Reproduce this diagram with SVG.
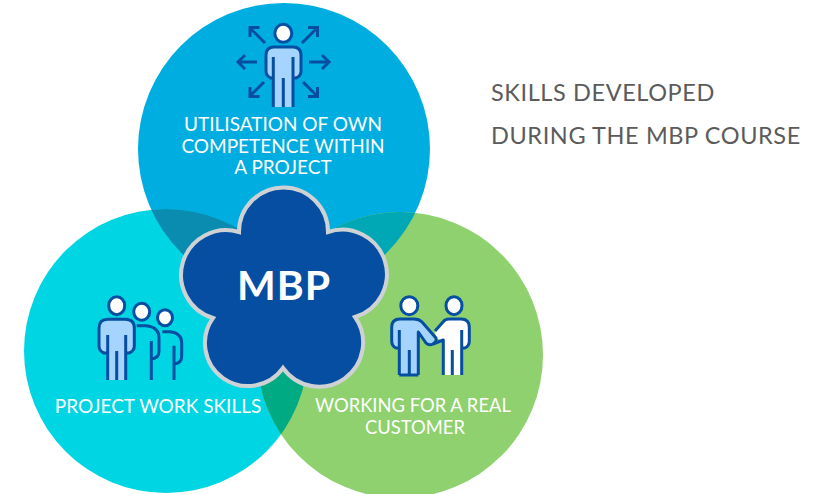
<svg xmlns="http://www.w3.org/2000/svg" width="823" height="494" viewBox="0 0 823 494">
<style>
.lbl{font-family:"Lato","Noto Sans",sans-serif;font-size:19px;fill:#fff;text-anchor:middle}
.lbl2{font-family:"Lato","Noto Sans",sans-serif;font-size:18.4px;fill:#fff;text-anchor:middle}
.side{font-family:"Lato","Noto Sans",sans-serif;font-size:23.5px;fill:#5b5b5b;letter-spacing:.6px}
.ln{fill:none;stroke:#054ea2;stroke-width:3;stroke-linecap:butt;stroke-linejoin:round}
.hd{fill:#fff;stroke:#054ea2;stroke-width:3}
.ar{fill:none;stroke:#054ea2;stroke-width:3}
</style>
<defs>
<clipPath id="cTop"><circle cx="284" cy="149" r="146"/></clipPath>
<clipPath id="cLeft"><circle cx="166" cy="351" r="142"/></clipPath>
</defs>
<rect width="823" height="494" fill="#fff"/>
<g id="circle-top"><circle cx="284" cy="149" r="146" fill="#00ade0"/></g>
<g id="circle-left"><circle cx="166" cy="351" r="142" fill="#00d5e3"/></g>
<g id="circle-right"><circle cx="400" cy="355" r="143" fill="#8fd16f"/></g>
<g id="overlaps">
<circle cx="166" cy="351" r="142" fill="#0a8bb0" clip-path="url(#cTop)"/>
<circle cx="400" cy="355" r="143" fill="#00a7b5" clip-path="url(#cTop)"/>
<circle cx="400" cy="355" r="143" fill="#00ab84" clip-path="url(#cLeft)"/>
</g>
<g id="mbp">
<path d="M239 232A44.500 44.500 0 1 1 328 232A44.600 44.600 0 1 1 355 317A44 44 0 1 1 283 368A43 43 0 1 1 213 318A44.900 44.900 0 1 1 239 232Z" fill="#054ea2" stroke="#cfd2d4" stroke-width="4"/>
<text x="284" y="300" style="font-family:'Lato','Noto Sans',sans-serif;font-size:41px;font-weight:700;fill:#fff;text-anchor:middle;letter-spacing:1px">MBP</text>
</g>
<g id="node-top">
<path d="M273 107V78H271Q266 76 266 71V55Q266 47 274 47H293Q301 47 301 55V71Q301 76 296 78H293V107Z" fill="#a5d4ff" stroke="none"/>
<path class="ln" d="M273.300 78H271Q266 76 266 71V55Q266 47 274 47H293Q301 47 301 55V71Q301 76 296 78H293M273.300 57V107M293 57V107M283.300 78V107"/>
<ellipse class="hd" cx="283.300" cy="33.300" rx="8.500" ry="9"/>
<path class="ar" d="M265 43L250 28M250 37V27.500H259.500M302 43L317 28M308 27.500H317.500V37M257 62H238M245 55L238 62L245 69M309 62H329M322 55L329 62L322 69M264 82L250 96M250 87V96.500H259.500M303 82L317 96M317.500 87V96.500H308"/>
<text class="lbl" x="283" y="131">UTILISATION OF OWN</text>
<text class="lbl" x="283" y="153">COMPETENCE WITHIN</text>
<text class="lbl" x="283" y="174">A PROJECT</text>
</g>
<g id="node-left">
<path d="M107.700 380V353H104Q99 351 99 346V328Q99 319.300 108 319.300H125Q134.300 319.300 134.300 328V346Q134.300 351 129 353H125.700V380Z" fill="#a5d4ff"/>
<path class="ln" d="M107.700 353H104Q99 351 99 346V328Q99 319.300 108 319.300H125Q134.300 319.300 134.300 328V346Q134.300 351 129 353H125.700M107.700 335V380M125.700 335V380M116.700 351V380"/>
<ellipse class="hd" cx="116.700" cy="305.700" rx="8" ry="9"/>
<ellipse class="hd" cx="141.700" cy="311.700" rx="8" ry="8.500"/>
<ellipse class="hd" cx="165" cy="317.700" rx="7.500" ry="8"/>
<path class="ln" d="M136.700 325.700H146Q159 327 159 338V351Q159 358 151.500 359M151.300 341V380M162.300 331.700H170Q181.700 333 181.700 343V356Q181.700 363 174.300 364M174 345.700V380"/>
<text class="lbl" x="158" y="412.500">PROJECT WORK SKILLS</text>
</g>
<g id="node-right">
<path d="M399.300 375V348H396Q391.700 346 391.700 341V327Q391.700 319 400 319H415Q420 319 424 323L435 340L430 345Q425 345 418.300 332V375Z" fill="#a5d4ff"/>
<path d="M443.300 375V341L436 338L435 332L443 322Q445 319 449 319H461Q469.300 319 469.300 327V341Q469.300 346 465 348H461.700V375Z" fill="#fff"/>
<path class="ln" d="M399.300 348H396Q391.700 346 391.700 341V327Q391.700 319 400 319H414Q419 319 422 322L436 338Q437 342 433 344Q429 346 426 343L418.300 332V375M399.300 330V375M409.300 350V375M399.300 375H418.300"/>
<path class="ln" d="M435 331L443 322Q445 319 449 319H461Q469.300 319 469.300 327V341Q469.300 346 465 348H461.700M433 344L443.300 340V375M461.700 330V375M452.300 350V375"/>
<ellipse class="hd" cx="409.300" cy="305.700" rx="8.500" ry="9"/>
<ellipse class="hd" cx="454" cy="305.700" rx="8" ry="9"/>
<text class="lbl2" x="413" y="412">WORKING FOR A REAL</text>
<text class="lbl2" x="415" y="434">CUSTOMER</text>
</g>
<g id="title">
<text class="side" x="491" y="100.500">SKILLS DEVELOPED</text>
<text class="side" x="491" y="143.500">DURING THE MBP COURSE</text>
</g>
<g id="connectors"/>
</svg>
